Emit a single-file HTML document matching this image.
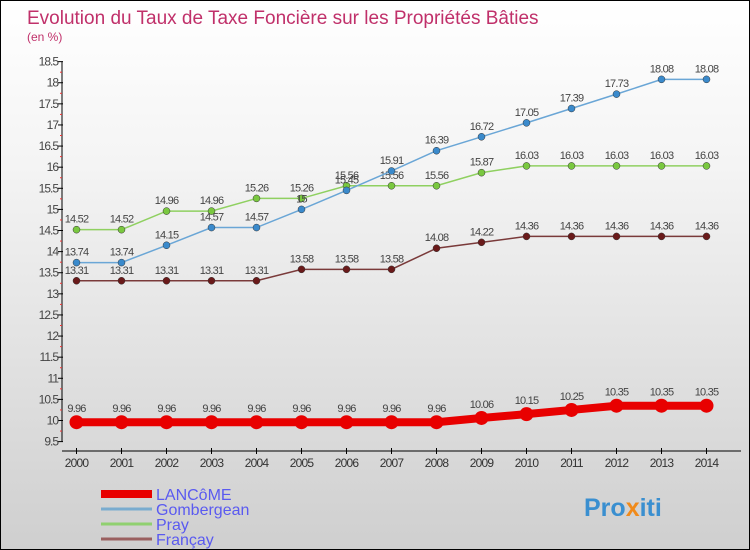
<!DOCTYPE html>
<html><head><meta charset="utf-8"><style>
body{margin:0}
#c{width:748px;height:548px;border:1px solid #000;background:linear-gradient(#fff,#f4f4f4 30%,#cfcfcf);position:relative;font-family:"Liberation Sans",sans-serif;overflow:hidden}
</style></head><body>
<div id="c">
<svg id="s" width="748" height="548" style="position:absolute;left:0;top:0">
<text x="26" y="23" font-size="19" fill="#c0306a">Evolution du Taux de Taxe Foncière sur les Propriétés Bâties</text>
<text x="26" y="40" font-size="12" fill="#c0306a">(en %)</text>
<g id="ax"></g><g id="ser"></g><g id="leg"></g>
<text x="583" y="515" font-size="25" font-weight="bold" fill="#3a8fd0">Pro<tspan fill="#f08a1a">x</tspan>iti</text>
</svg>
</div>
<script>
const years=[2000,2001,2002,2003,2004,2005,2006,2007,2008,2009,2010,2011,2012,2013,2014];
const lancome=[9.96,9.96,9.96,9.96,9.96,9.96,9.96,9.96,9.96,10.06,10.15,10.25,10.35,10.35,10.35];
const gombergean=[13.74,13.74,14.15,14.57,14.57,15,15.45,15.91,16.39,16.72,17.05,17.39,17.73,18.08,18.08];
const pray=[14.52,14.52,14.96,14.96,15.26,15.26,15.56,15.56,15.56,15.87,16.03,16.03,16.03,16.03,16.03];
const francay=[13.31,13.31,13.31,13.31,13.31,13.58,13.58,13.58,14.08,14.22,14.36,14.36,14.36,14.36,14.36];
const yTicks=[9.5,10,10.5,11,11.5,12,12.5,13,13.5,14,14.5,15,15.5,16,16.5,17,17.5,18,18.5];
const NS="http://www.w3.org/2000/svg";
const X=i=>75.5+45*i, Y=v=>419.5-(v-10)*42.22;
function mk(p,t,a){const e=document.createElementNS(NS,t);for(const k in a)e.setAttribute(k,a[k]);p.appendChild(e);return e;}
const ax=document.getElementById('ax');
mk(ax,'line',{x1:61,y1:Y(18.5),x2:61,y2:Y(9.5),stroke:'#000'});
mk(ax,'line',{x1:61,y1:450,x2:740,y2:450,stroke:'#000'});
yTicks.forEach(v=>{
 mk(ax,'line',{x1:57,x2:62,y1:Y(v),y2:Y(v),stroke:'#000'});
 if(v<18.5) mk(ax,'line',{x1:59,x2:61,y1:Y(v+0.25),y2:Y(v+0.25),stroke:'#e33'});
 const t=mk(ax,'text',{x:57,y:Y(v)+4,'font-size':12,'text-anchor':'end',fill:'#444','letter-spacing':'-1'});
 t.textContent=v;
 
 
});
years.forEach((y,i)=>{
 mk(ax,'line',{x1:X(i),x2:X(i),y1:447,y2:453,stroke:'#000'});
 const t=mk(ax,'text',{x:X(i),y:466,'font-size':12,'text-anchor':'middle',fill:'#333','letter-spacing':'-0.8'});
 t.textContent=y;
 
 
});
const ser=document.getElementById('ser');
function draw(vals,col,dot,w,r,name){
 const g=mk(ser,'g',{});
 
 
 mk(g,'polyline',{points:vals.map((v,i)=>X(i)+','+Y(v)).join(' '),fill:'none',stroke:col,'stroke-width':w});
 vals.forEach((v,i)=>{
  const c=mk(g,'circle',{cx:X(i),cy:Y(v),r:r,fill:dot,stroke:w>3?'none':'#333','stroke-width':0.5});
  
  
  const t=mk(g,'text',{x:X(i),y:Y(v)-(w>3?10:7),'font-size':11,'text-anchor':'middle',fill:'#444','letter-spacing':'-0.8'});
  t.textContent=v;
  
  
 });
}
draw(francay,'#7a3a3a','#6a1a1a',1.5,3.5,'francay');
draw(pray,'#8fd060','#7ac840',1.5,3.5,'pray');
draw(gombergean,'#6aa6d6','#3a8acc',1.5,3.5,'gombergean');
draw(lancome,'#e80000','#e80000',8,7,'lancome');
const leg=document.getElementById('leg');
[['LANCôME','#e80000',8],['Gombergean','#7aaccf',3],['Pray','#90d070',3],['Françay','#9a6060',3]].forEach((d,i)=>{
 const y=493+i*15;
 const g=mk(leg,'g',{});
 
 
 mk(g,'line',{x1:100,x2:151,y1:y,y2:y,stroke:d[1],'stroke-width':d[2]});
 const t=mk(g,'text',{x:155,y:y+6,'font-size':16,fill:'#5a5af0'});
 t.textContent=d[0];
});
</script>
</body></html>
